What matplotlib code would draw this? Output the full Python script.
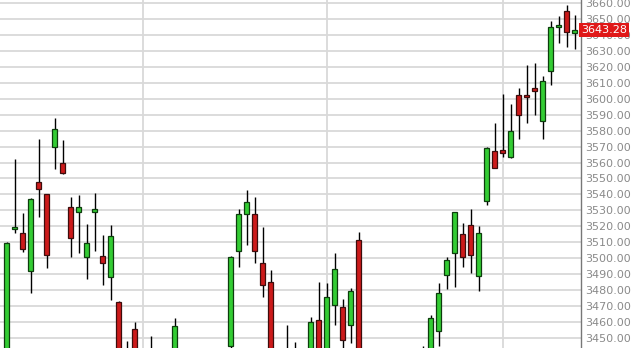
import matplotlib
matplotlib.use("Agg")
import matplotlib.pyplot as plt
import numpy as np

# OHLC values (off-screen candles estimated below the visible range)
opens = [3435, 3518.3, 3515.6, 3491.7, 3547.8, 3540.0, 3570.0, 3559.6, 3532.3, 3528.8,
         3500.5, 3528.8, 3501.3, 3488.3, 3472.4, 3432, 3455.3, 3430, 3420, 3432,
         3420, 3428, 3440, 3425, 3415, 3420, 3432, 3422, 3444.8, 3504.3,
         3527.7, 3527.7, 3496.8, 3484.8, 3432, 3425, 3438, 3428, 3435, 3461.1,
         3440, 3470.3, 3469.0, 3457.8, 3511.6, 3430, 3420, 3410, 3418, 3428,
         3415, 3425, 3432, 3438, 3454.0, 3489.2, 3503.0, 3515.1, 3520.6, 3488.7,
         3536.1, 3567.5, 3567.9, 3563.3, 3602.3, 3602.7, 3606.7, 3586.3, 3617.7, 3645.0,
         3655.0, 3641.6]
highs = [3510, 3562.0, 3528.0, 3538.0, 3575.0, 3540.5, 3588.0, 3574.0, 3538.5, 3539.8,
         3521.4, 3540.7, 3514.5, 3520.6, 3473.0, 3448.1, 3459.9, 3440, 3451.0, 3442,
         3438, 3462.4, 3442, 3435, 3430, 3438, 3440, 3441, 3501.0, 3530.7,
         3542.8, 3538.2, 3519.4, 3492.5, 3440, 3458.2, 3447.5, 3438, 3462.8, 3485.2,
         3484.6, 3503.4, 3474.5, 3481.2, 3516.4, 3440, 3432, 3425, 3435, 3438,
         3430, 3440, 3444.8, 3464.3, 3484.6, 3500.5, 3529.2, 3522.3, 3531.1, 3520.2,
         3569.5, 3584.7, 3603.1, 3596.8, 3606.9, 3621.5, 3622.8, 3614.4, 3648.8, 3652.1,
         3658.8, 3652.5]
lows = [3425, 3515.5, 3503.5, 3478.0, 3526.0, 3494.0, 3556.0, 3552.5, 3500.5, 3503.4,
        3486.7, 3504.7, 3483.3, 3473.7, 3425, 3418, 3420, 3412, 3410, 3415,
        3405, 3420, 3420, 3410, 3400, 3412, 3418, 3415, 3438, 3494.6,
        3508.2, 3496.8, 3475.8, 3425, 3415, 3412, 3420, 3415, 3428, 3430,
        3435, 3458.2, 3440, 3446.9, 3420, 3415, 3405, 3400, 3410, 3412,
        3405, 3418, 3420, 3430, 3444.8, 3480.8, 3481.7, 3494.2, 3490.8, 3479.3,
        3533.2, 3556.5, 3563.3, 3563.0, 3575.0, 3585.1, 3590.1, 3575.0, 3608.6, 3635.3,
        3632.8, 3631.5]
closes = [3509.7, 3519.7, 3505.5, 3537.3, 3543.2, 3501.7, 3581.3, 3553.3, 3512.4, 3531.9,
          3509.7, 3530.7, 3496.7, 3513.9, 3430, 3425, 3428, 3418, 3435, 3420,
          3430, 3457.4, 3425, 3415, 3420, 3432, 3422, 3438, 3500.9, 3527.7,
          3535.0, 3504.3, 3483.0, 3432, 3420, 3440, 3428, 3435, 3459.9, 3438,
          3475.6, 3492.9, 3448.3, 3479.2, 3430, 3420, 3410, 3418, 3428, 3415,
          3425, 3435, 3440, 3462.2, 3477.9, 3498.8, 3529.0, 3500.5, 3501.7, 3515.6,
          3569.2, 3556.6, 3565.8, 3580.1, 3589.7, 3601.0, 3604.8, 3611.5, 3645.4, 3646.6,
          3642.2, 3643.28]

y_ticks = list(range(3450, 3670, 10))
vgrid_idx = [17, 40, 62]
last_price = 3643.28

W, H = 635, 348
fig = plt.figure(figsize=(W / 100, H / 100), dpi=100)
ax_right = 581 / W
ax = fig.add_axes([0, 0, ax_right, 1])

x = np.arange(len(opens))
o = np.array(opens); h = np.array(highs); l = np.array(lows); c = np.array(closes)
up = c >= o
green = "#33cc33"
red = "#cc1a1a"

ax.vlines(x, l, h, color="black", linewidth=1.0, zorder=3)
ax.bar(x[up], (c - o)[up], bottom=o[up], width=0.62, color=green,
       edgecolor="#0d3d0d", linewidth=0.9, zorder=4)
ax.bar(x[~up], (c - o)[~up], bottom=o[~up], width=0.62, color=red,
       edgecolor="#3d0d0d", linewidth=0.9, zorder=4)

ax.set_xlim(-6.7 / 8, (581 - 6.7) / 8)
ax.set_ylim(3443.5, 3662.1)

for v in y_ticks:
    ax.axhline(v, color="#d9d9d9", linewidth=1.3, zorder=1)
for vi in vgrid_idx:
    ax.axvline(vi, color="#d9d9d9", linewidth=1.3, zorder=1)

ax.yaxis.tick_right()
ax.set_yticks(y_ticks)
ax.set_yticklabels([f"{v:.2f}" for v in y_ticks], fontsize=8, color="#8a8a8a")
ax.tick_params(axis="y", length=0, pad=3)
ax.set_xticks([])
for s in ["top", "left", "bottom"]:
    ax.spines[s].set_visible(False)
ax.spines["right"].set_color("#777777")
ax.spines["right"].set_linewidth(1.0)

ax.text(1.0, last_price, f"{last_price:.2f}", transform=ax.get_yaxis_transform(),
        ha="left", va="center", fontsize=8, color="white", zorder=10,
        bbox=dict(boxstyle="square,pad=0.15", facecolor="#e01818", edgecolor="none"),
        clip_on=False)

fig.savefig("out.png", dpi=100)
